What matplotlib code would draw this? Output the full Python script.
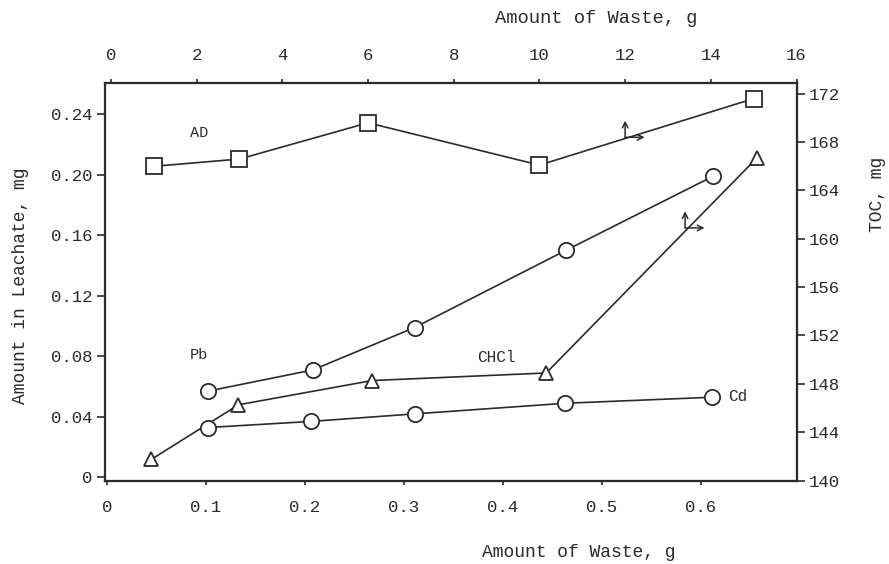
import matplotlib
matplotlib.use("Agg")
import matplotlib.pyplot as plt

# Data
# bottom x axis (g) / left y axis (mg)
pb_x = [0.102, 0.208, 0.311, 0.464, 0.613]
pb_y = [0.057, 0.071, 0.099, 0.150, 0.199]

cd_x = [0.102, 0.206, 0.311, 0.463, 0.612]
cd_y = [0.033, 0.037, 0.042, 0.049, 0.053]

chcl_x = [0.045, 0.133, 0.268, 0.444, 0.657]
chcl_y = [0.012, 0.048, 0.064, 0.069, 0.211]

# top x axis (g) / right y axis (TOC, mg)
ad_x = [1, 3, 6, 10, 15]
ad_y = [166.0, 166.6, 169.6, 166.1, 171.6]

bottom_ticks = [0, 0.1, 0.2, 0.3, 0.4, 0.5, 0.6]
bottom_labels = ["0", "0.1", "0.2", "0.3", "0.4", "0.5", "0.6"]
left_ticks = [0, 0.04, 0.08, 0.12, 0.16, 0.20, 0.24]
left_labels = ["0", "0.04", "0.08", "0.12", "0.16", "0.20", "0.24"]
top_ticks = [0, 2, 4, 6, 8, 10, 12, 14, 16]
right_ticks = [140, 144, 148, 152, 156, 160, 164, 168, 172]

plt.rcParams['font.family'] = ['Liberation Mono', 'DejaVu Sans Mono']
ink = "#2b2b2b"
tick_fs = 12.5
label_fs = 13

fig = plt.figure(figsize=(8.89, 5.64), dpi=100)
ax = fig.add_axes([0.118, 0.148, 0.778, 0.705])

# main axes: Pb, Cd, CHCl
line_kw = dict(color=ink, linewidth=1.2, markerfacecolor="white", markeredgecolor=ink, markeredgewidth=1.3)
ax.plot(chcl_x, chcl_y, marker="^", markersize=10, zorder=3, **line_kw)
ax.plot(pb_x, pb_y, marker="o", markersize=11, zorder=4, **line_kw)
ax.plot(cd_x, cd_y, marker="o", markersize=11, zorder=4, **line_kw)

ax.set_xlim(-0.002, 0.697)
ax.set_ylim(-0.002, 0.2605)
ax.set_xticks(bottom_ticks)
ax.set_xticklabels(bottom_labels)
ax.set_yticks(left_ticks)
ax.set_yticklabels(left_labels)
ax.tick_params(axis="x", direction="out", length=3, width=1.2, labelsize=tick_fs, pad=11, colors=ink)
ax.tick_params(axis="y", direction="out", length=6, width=1.2, labelsize=tick_fs, pad=3, colors=ink)
ax.set_xlabel("Amount of Waste, g", fontsize=label_fs, color=ink)
ax.xaxis.set_label_coords(0.685, -0.16)
ax.set_ylabel("Amount in Leachate, mg", fontsize=label_fs, color=ink)
ax.yaxis.set_label_coords(-0.11, 0.49)

# right y axis (TOC) and top x axis for AD
axr = ax.twinx()
axr.set_ylim(140, 172.9)
axr.set_yticks(right_ticks)
axr.tick_params(axis="y", direction="out", length=6, width=1.2, labelsize=tick_fs, pad=3, colors=ink)
axr.set_ylabel("TOC, mg", fontsize=label_fs, color=ink)
axr.yaxis.set_label_coords(1.105, 0.72)

axt = axr.twiny()
axt.set_xlim(-0.14, 16.0)
axt.set_xticks(top_ticks)
axt.tick_params(axis="x", direction="out", length=3, width=1.2, labelsize=tick_fs, pad=11, colors=ink)
axt.set_xlabel("Amount of Waste, g", fontsize=label_fs + 0.5, color=ink)
axt.xaxis.set_label_coords(0.71, 1.15)
axt.plot(ad_x, ad_y, marker="s", markersize=11, zorder=3, **line_kw)

for a in (ax, axr, axt):
    for s in a.spines.values():
        s.set_linewidth(1.5)
        s.set_color(ink)

# series labels
ax.text(0.0935, 0.2275, "AD", fontsize=11, color=ink, ha="center", va="center")
ax.text(0.0925, 0.0807, "Pb", fontsize=11, color=ink, ha="center", va="center")
ax.text(0.394, 0.079, "CHCl", fontsize=11.5, color=ink, ha="center", va="center")
ax.text(0.628, 0.0536, "Cd", fontsize=11.5, color=ink, ha="left", va="center")

# small arrows pointing to the top / right axes
arr = dict(arrowstyle="<-", color=ink, lw=1.1, shrinkA=0, shrinkB=0)
for (px, py) in [(12.0, 168.4), (13.4, 160.9)]:
    axt.annotate("", xy=(px, py), xycoords="data", xytext=(0, 12), textcoords="offset points", arrowprops=arr)
    axt.annotate("", xy=(px, py), xycoords="data", xytext=(14, 0), textcoords="offset points", arrowprops=arr)

fig.savefig("out.png", dpi=100)
